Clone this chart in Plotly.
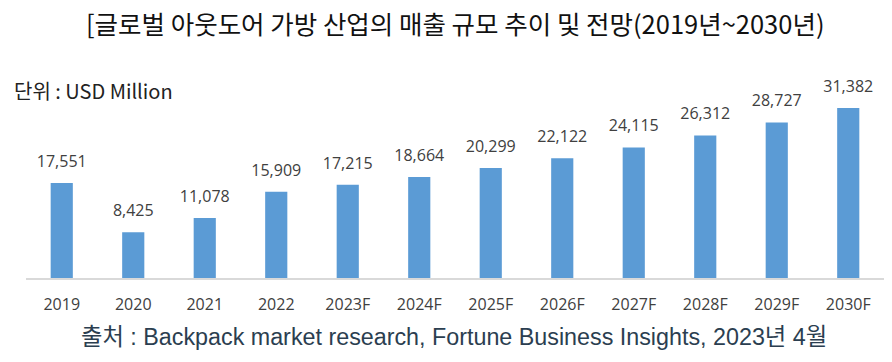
import plotly.graph_objects as go

categories = ["2019", "2020", "2021", "2022", "2023F", "2024F", "2025F", "2026F",
              "2027F", "2028F", "2029F", "2030F"]
values = [17551, 8425, 11078, 15909, 17215, 18664, 20299, 22122, 24115, 26312, 28727, 31382]
value_labels = [f"{v:,}" for v in values]

title_text = "[글로벌 아웃도어 가방 산업의 매출 규모 추이 및 전망(2019년~2030년)"
unit_text = "단위 : USD Million"
source_text = "출처 : Backpack market research, Fortune Business Insights, 2023년 4월"

H = 362; W = 892
t = 83; b = 84; L = 26; R = 8
ph = H - t - b; pw = W - L - R
def py(y): return (H - b - y) / ph
def px(x): return (x - L) / pw

fig = go.Figure()
fig.add_trace(go.Bar(
    x=categories, y=values,
    marker=dict(color="#5B9BD5", line=dict(width=0)),
))
fig.add_trace(go.Scatter(
    x=categories, y=values, mode="markers+text",
    marker=dict(size=18, opacity=0, color="white"),
    text=value_labels, textposition="top center", cliponaxis=False,
    textfont=dict(family="Open Sans, Noto Sans, sans-serif", size=16, color="#404040"),
    hoverinfo="skip",
))

anns = [
    dict(text=title_text, x=px(455), y=py(22), xref="paper", yref="paper",
         showarrow=False, yanchor="middle",
         font=dict(family="Noto Sans CJK KR", size=25.5, color="#111111")),
    dict(text=unit_text, x=px(12), y=py(90), xref="paper", yref="paper",
         showarrow=False, xanchor="left", yanchor="middle",
         font=dict(family="Noto Sans CJK KR", size=20, color="#222222")),
    dict(text=source_text, x=px(454), y=py(337), xref="paper", yref="paper",
         showarrow=False, yanchor="middle",
         font=dict(family="Liberation Sans, Noto Sans CJK KR", size=23.3, color="#2B3E50")),
]

fig.update_layout(
    width=W, height=H,
    margin=dict(l=L, r=R, t=t, b=b, autoexpand=False),
    paper_bgcolor="white", plot_bgcolor="white",
    showlegend=False,
    bargap=0.69,
    xaxis=dict(type="category", range=[-0.5, len(categories) - 0.5],
               showgrid=False, showline=True, linecolor="#D9D9D9", linewidth=1.5,
               automargin=False, ticks="outside", ticklen=11, tickcolor="rgba(0,0,0,0)",
               tickfont=dict(family="Open Sans, Noto Sans, sans-serif", size=16, color="#404040")),
    yaxis=dict(visible=False, range=[0, 36000], automargin=False),
    annotations=anns,
)

fig.write_html("out.html", config={"displayModeBar": False},
               post_script="document.body.style.margin='0px';")
